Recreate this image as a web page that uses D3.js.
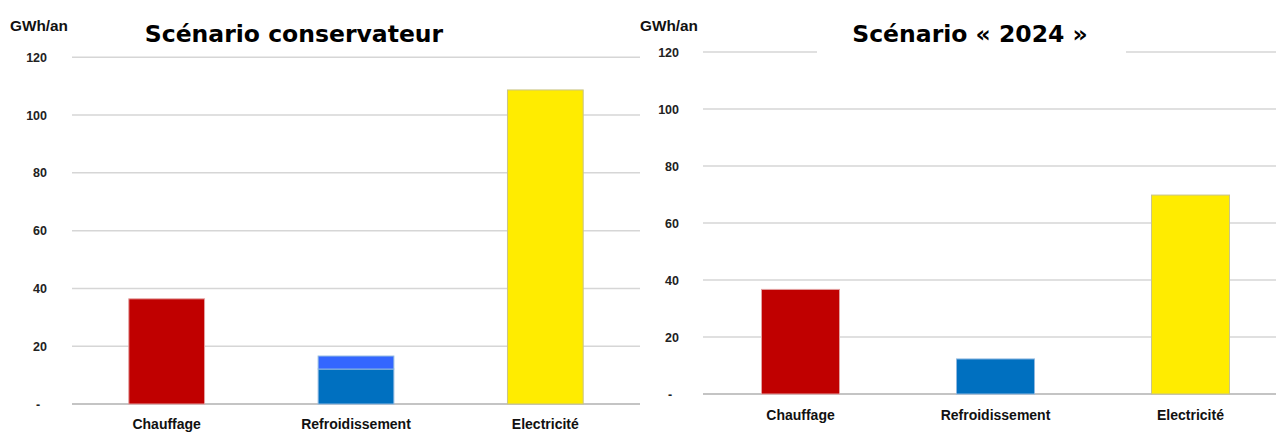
<!DOCTYPE html>
<html><head><meta charset="utf-8">
<script src="https://cdn.jsdelivr.net/npm/d3@7"></script>
<style>
html,body{margin:0;padding:0;background:#fff;overflow:hidden;}
</style></head>
<body>
<svg id="c" width="1276" height="432"></svg>
<script>
const categories = ["Chauffage", "Refroidissement", "Electricité"];
// Scénario conservateur (GWh/an)
const consBase = [36.4, 12.1, 108.7];
const consExtra = [0, 4.5, 0];
// Scénario « 2024 » (GWh/an)
const s2024 = [36.7, 12.3, 69.8];
const tickValues = [0, 20, 40, 60, 80, 100, 120];
const tickLabels = ["-\u00a0\u00a0", "20", "40", "60", "80", "100", "120"];
const titles = ["Scénario conservateur", "Scénario « 2024 »"];
const unitLabel = "GWh/an";
const colors = ["#c00000", "#0070c0", "#ffec00"];
const strokeColors = ["#e3a0a0", "#8fb8e0", "#c9c48a"];
const extraColor = "#3366ff";

const svg = d3.select("#c");
const FONT = "'Liberation Sans', Arial, sans-serif";

function panel(cfg) {
  const g = svg.append("g");
  const x = d3.scaleBand().domain(categories).range([cfg.x0, cfg.x1]).paddingInner(0.6).paddingOuter(0.3);
  const y = d3.scaleLinear().domain([0, 120]).range([cfg.y0, cfg.y120]);

  // gridlines
  g.append("g").selectAll("line").data(tickValues).join("line")
    .attr("x1", cfg.gx0).attr("x2", cfg.gx1)
    .attr("y1", d => y(d)).attr("y2", d => y(d))
    .attr("stroke", d => d === 0 ? "#c4c4c4" : "#d6d6d6")
    .attr("stroke-width", d => d === 0 ? 2 : 1.5);

  // y axis labels
  const yAxis = d3.axisLeft(y).tickValues(tickValues)
    .tickFormat((d, i) => tickLabels[i]).tickSize(0).tickPadding(0);
  const ya = g.append("g").attr("transform", `translate(${cfg.labelX},0)`).call(yAxis);
  ya.select(".domain").remove();
  ya.selectAll("text").attr("font-family", FONT).attr("font-weight", "bold")
    .attr("font-size", 12.5).attr("fill", "#222");

  // bars (base)
  const rows = categories.map((c, i) => ({c, b: cfg.base[i], e: cfg.extra ? cfg.extra[i] : 0, i}));
  g.append("g").selectAll("rect").data(rows).join("rect")
    .attr("x", d => x(d.c))
    .attr("width", x.bandwidth())
    .attr("y", d => y(d.b))
    .attr("height", d => y(0) - y(d.b))
    .attr("fill", d => colors[d.i])
    .attr("stroke", d => strokeColors[d.i]).attr("stroke-width", 1);
  // stacked extra segments
  g.append("g").selectAll("rect").data(rows.filter(d => d.e > 0)).join("rect")
    .attr("x", d => x(d.c))
    .attr("width", x.bandwidth())
    .attr("y", d => y(d.b + d.e))
    .attr("height", d => y(d.b) - y(d.b + d.e))
    .attr("fill", extraColor)
    .attr("stroke", "#8fb8e0").attr("stroke-width", 1);

  // category labels
  g.append("g").selectAll("text").data(categories).join("text")
    .attr("x", d => x(d) + x.bandwidth() / 2)
    .attr("y", cfg.catY)
    .attr("text-anchor", "middle")
    .attr("font-family", FONT).attr("font-weight", "bold").attr("font-size", 14)
    .attr("fill", "#111").text(d => d);

  // unit label
  g.append("text").attr("x", cfg.unitX).attr("y", cfg.unitY)
    .attr("font-family", FONT).attr("font-weight", "bold").attr("font-size", 14.5)
    .attr("textLength", 58).attr("lengthAdjust", "spacingAndGlyphs")
    .attr("fill", "#111").text(unitLabel);

  // title (with white backing over the top gridline where needed)
  if (cfg.titleBg) {
    g.append("rect").attr("x", cfg.titleBg[0]).attr("width", cfg.titleBg[1] - cfg.titleBg[0])
      .attr("y", y(120) - 4).attr("height", 8).attr("fill", "#fff");
  }
  g.append("text").attr("x", cfg.titleX).attr("y", cfg.titleY)
    .attr("text-anchor", "middle")
    .attr("font-family", "'DejaVu Sans', sans-serif").attr("font-weight", "bold")
    .attr("font-size", 23.5).attr("fill", "#000").text(cfg.title);
}

panel({
  x0: 72, x1: 640, gx0: 72, gx1: 640, y0: 404, y120: 57.3, labelX: 47,
  base: consBase, extra: consExtra, catY: 429, unitX: 10, unitY: 31,
  title: titles[0], titleX: 294, titleY: 42
});
panel({
  x0: 703, x1: 1288, gx0: 703, gx1: 1276, y0: 394, y120: 52, labelX: 679,
  base: s2024, extra: null, catY: 420, unitX: 640, unitY: 31,
  title: titles[1], titleX: 970, titleY: 42, titleBg: [817, 1126]
});
</script>
</body></html>
